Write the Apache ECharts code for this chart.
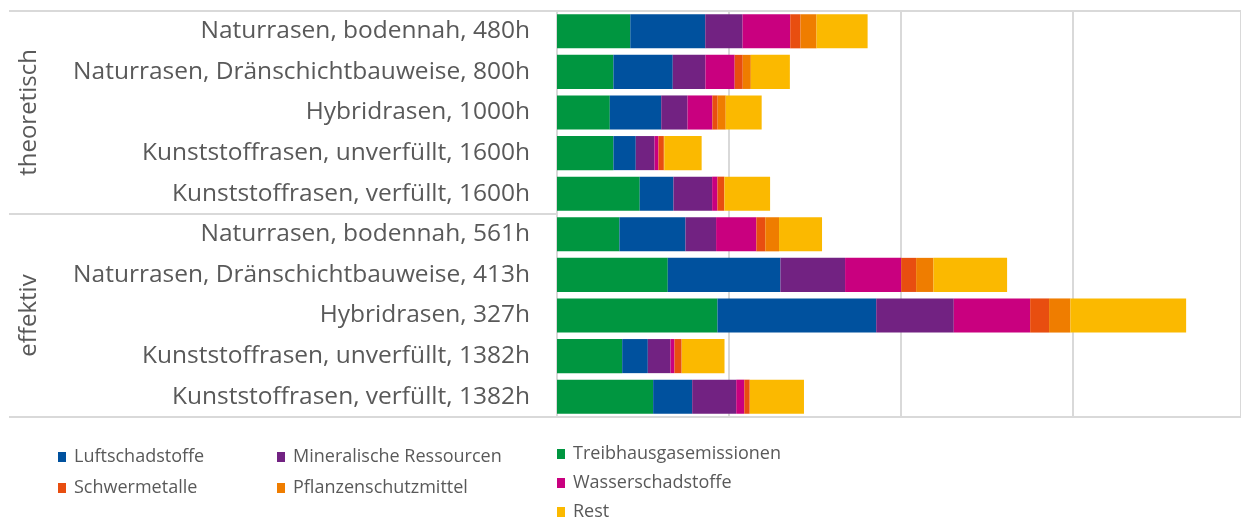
<!DOCTYPE html>
<html>
<head>
<meta charset="utf-8">
<script src="https://cdn.jsdelivr.net/npm/echarts@6/dist/echarts.min.js"></script>
<style>html,body{margin:0;padding:0;background:#fff}#c{width:1241px;height:521px}</style>
</head>
<body>
<div id="c"></div>
<script>
const categories = [
  'Naturrasen, bodennah, 480h',
  'Naturrasen, Dränschichtbauweise, 800h',
  'Hybridrasen, 1000h',
  'Kunststoffrasen, unverfüllt, 1600h',
  'Kunststoffrasen, verfüllt, 1600h',
  'Naturrasen, bodennah, 561h',
  'Naturrasen, Dränschichtbauweise, 413h',
  'Hybridrasen, 327h',
  'Kunststoffrasen, unverfüllt, 1382h',
  'Kunststoffrasen, verfüllt, 1382h'
];
const groups = ['theoretisch', 'effektiv'];
const treibhaus   = [42.6, 32.8, 30.7, 32.8, 48.1, 36.3, 64.4, 93.3, 37.9, 55.9];
const luft        = [43.6, 34.5, 29.9, 13.0, 19.6, 38.4, 65.5, 92.3, 14.9, 22.7];
const mineral     = [21.7, 19.0, 15.3, 10.9, 22.5, 17.8, 37.6, 45.1, 13.2, 25.6];
const wasser      = [27.7, 17.0, 14.4,  2.3,  3.1, 23.4, 32.6, 44.4,  2.3,  4.7];
const schwer      = [ 6.0,  4.7,  3.1,  3.1,  3.9,  5.2,  8.7, 11.0,  4.1,  3.1];
const pflanzen    = [ 9.3,  4.7,  4.7,  0.3,  0.2,  8.0, 10.1, 12.4,  0.2,  0.2];
const rest        = [29.7, 22.7, 20.9, 21.7, 26.5, 25.0, 42.8, 67.3, 24.8, 31.4];

const FONT = 'Open Sans';
const TXT = '#595959';
const LINE = '#d9d9d9';

const seriesDef = [
  ['Treibhausgasemissionen', treibhaus, '#009640'],
  ['Luftschadstoffe', luft, '#00519e'],
  ['Mineralische Ressourcen', mineral, '#722282'],
  ['Wasserschadstoffe', wasser, '#c9007f'],
  ['Schwermetalle', schwer, '#e84e10'],
  ['Pflanzenschutzmittel', pflanzen, '#ef7d00'],
  ['Rest', rest, '#fbb900']
];

function legend(names, left, top, gap) {
  return {
    orient: 'vertical', left: left, top: top, itemGap: gap,
    itemWidth: 8, itemHeight: 10, icon: 'rect', padding: 0,
    data: names,
    textStyle: { fontFamily: FONT, fontSize: 18, color: TXT, padding: [0, 0, 0, 3] }
  };
}

const chart = echarts.init(document.getElementById('c'), null, { renderer: 'canvas' });
chart.setOption({
  animation: false,
  backgroundColor: '#fff',
  grid: { left: 557, right: 0, top: 11, bottom: 104, containLabel: false },
  legend: [
    legend(['Luftschadstoffe', 'Schwermetalle'], 58, 448, 13),
    legend(['Mineralische Ressourcen', 'Pflanzenschutzmittel'], 277, 448, 13),
    legend(['Treibhausgasemissionen', 'Wasserschadstoffe', 'Rest'], 557, 445, 11)
  ],
  xAxis: [
    { type: 'value', min: 0, max: 397.7, interval: 100, position: 'bottom',
      axisLine: { show: true, lineStyle: { color: LINE, width: 2 } },
      axisTick: { show: false }, axisLabel: { show: false },
      splitLine: { show: true, lineStyle: { color: LINE, width: 2 } } },
    { type: 'value', min: 0, max: 397.7, position: 'top',
      axisLine: { show: true, onZero: false, lineStyle: { color: LINE, width: 2 } },
      axisTick: { show: false }, axisLabel: { show: false }, splitLine: { show: false } }
  ],
  yAxis: [
    { type: 'category', data: categories, inverse: true, position: 'left',
      axisLine: { show: true, lineStyle: { color: LINE, width: 2 } },
      axisTick: { show: false },
      axisLabel: { fontFamily: FONT, fontSize: 24.5, color: TXT, margin: 27 } },
    { type: 'category', data: groups, inverse: true, position: 'left', offset: 0,
      axisLine: { show: false },
      axisTick: { show: true, length: 548, lineStyle: { color: LINE, width: 2 } },
      axisLabel: { fontFamily: FONT, fontSize: 24, color: TXT, rotate: 90, margin: 516 } }
  ],
  series: seriesDef.map(([name, data, color]) => ({
    name, type: 'bar', stack: 'total', data,
    xAxisIndex: 0, yAxisIndex: 0,
    barCategoryGap: '16%',
    itemStyle: { color },
    emphasis: { disabled: true }
  }))
});
</script>
</body>
</html>
